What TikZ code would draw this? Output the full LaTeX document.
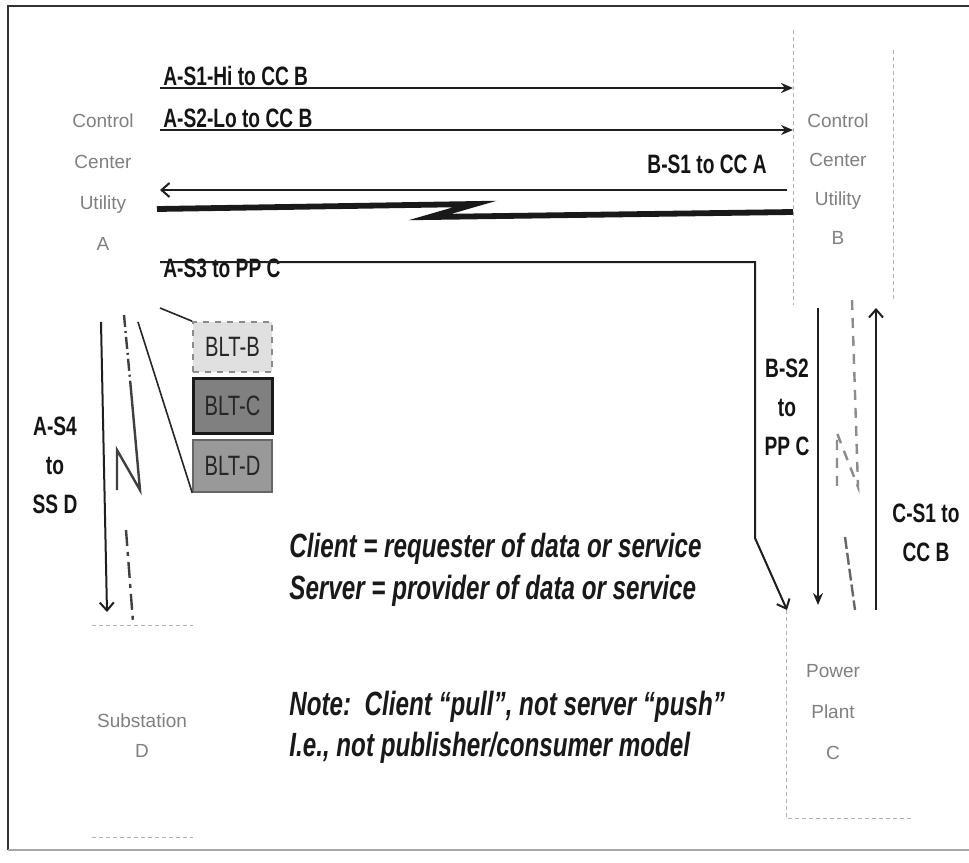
\documentclass[tikz,border=0pt]{standalone}
\usepackage{fontspec}
\setmainfont{Liberation Sans}
\newfontfamily\condfont{Liberation Sans}[FakeStretch=0.72]
\usetikzlibrary{arrows.meta}
\tikzset{
  lbl/.style={font=\condfont\bfseries\fontsize{13.3}{19.5}\selectfont, inner sep=0pt, text=black!92, align=center},
  ent/.style={font=\fontsize{9.5}{20.5}\selectfont, text=black!50, inner sep=0pt, align=center},
  notetxt/.style={font=\condfont\bfseries\itshape\fontsize{16.8}{22}\selectfont, inner sep=0pt, anchor=base west, text=black!90},
  conn/.style={line width=1pt, draw=black!88},
  tipS/.style={-{Stealth[length=6pt,width=5pt]}},
  tipB/.style={-{Straight Barb[length=4pt,width=7pt]}},
  faint/.style={draw=black!30, line width=0.5pt, dash pattern=on 2pt off 1.5pt},
  link/.style={draw=black!75, line width=1.2pt},
  bltbox/.style={draw=black!60, line width=0.8pt, minimum width=39.5pt, inner sep=0pt, font=\condfont\fontsize{14}{16}\selectfont, text=black!85},
}
\begin{document}
\begin{tikzpicture}[x=0.5pt,y=-0.5pt]
\useasboundingbox (0,0) rectangle (969,862);
\fill[white] (0,0) rectangle (969,862);
% frame
\draw[black!80, line width=1pt] (969,6) -- (8,6) -- (8,850);
\draw[black!35, line width=0.6pt] (8,850) -- (969,850);

% entity labels
\node[ent] (ccA) at (103,182) {Control\\Center\\Utility\\A};
\node[ent, font=\fontsize{9.5}{19.5}\selectfont] (ccB) at (838,179) {Control\\Center\\Utility\\B};
\node[ent] (ppC) at (833,712) {Power\\Plant\\C};
\node[ent, font=\fontsize{9.5}{15}\selectfont] (ssD) at (142,736) {Substation\\D};

% faint box edges
\draw[faint] (793,30) -- (793,305);
\draw[faint] (893,50) -- (893,300);
\draw[faint] (786,610) -- (786,818) -- (913,818);
\draw[faint] (92,625) -- (193,625);
\draw[faint] (92,837) -- (193,837);

% end points
\coordinate (s1a) at (160,88);  \coordinate (s1b) at (793,88);
\coordinate (s2a) at (160,130); \coordinate (s2b) at (793,130);
\coordinate (b1a) at (787,190); \coordinate (b1b) at (160,190);
\coordinate (w1) at (157,209);  \coordinate (w2) at (475,204);
\coordinate (w3) at (430,217);  \coordinate (w4) at (793,212);
\coordinate (s3a) at (160,262); \coordinate (s3b) at (755,262);
\coordinate (s3c) at (755,538); \coordinate (s3d) at (787,610);
\coordinate (b2a) at (818,308); \coordinate (b2b) at (818,605);
\coordinate (c1a) at (876,610); \coordinate (c1b) at (876,308);
\coordinate (s4a) at (101,322); \coordinate (s4b) at (107,612);

% text labels
\node[lbl, anchor=base west] (tS1) at (163,85) {A-S1-Hi to CC B};
\node[lbl, anchor=base west] (tS2) at (163,127) {A-S2-Lo to CC B};
\node[lbl, anchor=base east] (tB1) at (767,173) {B-S1 to CC A};
\node[lbl, anchor=base west] (tS3) at (163,277) {A-S3 to PP C};
\node[lbl] (tS4) at (55,465) {A-S4\\to\\SS D};
\node[lbl] (tB2) at (787,407) {B-S2\\to\\PP C};
\node[lbl] (tC1) at (926,533) {C-S1 to\\CC B};

% connectors
\draw[conn,tipS] (s1a) -- (s1b);
\draw[conn,tipS] (s2a) -- (s2b);
\draw[conn,tipB] (b1a) -- (b1b);
\draw[link, draw=black!90, line width=2.9pt, line join=miter] (w1) -- (w2) -- (w3) -- (w4);
\draw[conn,tipB] (s3a) -- (s3b) -- (s3c) -- (s3d);
\draw[conn,tipS] (b2a) -- (b2b);
\draw[conn,tipB] (c1a) -- (c1b);
\draw[conn,tipB] (s4a) -- (s4b);

% link lines with break symbol
\draw[link, dash pattern=on 6pt off 2pt on 1pt off 2pt] (124,315) -- (131,390);
\draw[link] (131,390) -- (140,490) -- (117,450) -- (117,490);
\draw[link, dash pattern=on 8pt off 3pt on 2pt off 3pt] (126,530) -- (133,622);
\draw[link, draw=black!45, dash pattern=on 5pt off 4pt] (852,300) -- (858,487) -- (837,433) -- (837,490);
\draw[link, draw=black!60, dash pattern=on 6pt off 2pt] (845,537) -- (855,610);

% BLT list
\node[bltbox, fill=black!12, draw=black!45, dashed, minimum height=25pt] (bltB) at (232.5,347) {BLT-B};
\node[bltbox, fill=black!50, draw=black!90, line width=1.5pt, minimum height=27.5pt] (bltC) at (232.5,405.5) {BLT-C};
\node[bltbox, fill=black!40, draw=black!60, minimum height=26pt] (bltD) at (232.5,466) {BLT-D};
\draw[black!85, line width=0.8pt] (160,308) -- (bltB.north west);
\draw[black!85, line width=0.8pt] (138,322) -- (bltD.south west);

% notes
\node[notetxt] (n1) at (289,557) {Client = requester of data or service};
\node[notetxt] (n2) at (289,599) {Server = provider of data or service};
\node[notetxt] (n3) at (289,715) {Note:\ \ Client “pull”, not server “push”};
\node[notetxt] (n4) at (289,756) {I.e., not publisher/consumer model};
\end{tikzpicture}
\end{document}
